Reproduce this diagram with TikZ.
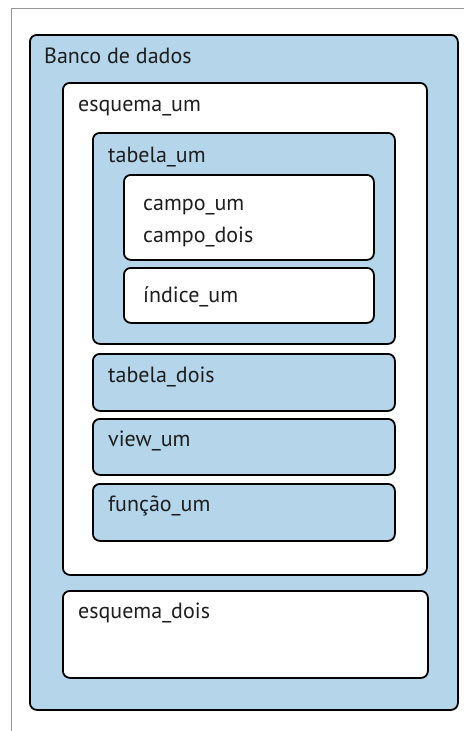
\documentclass[tikz,border=0pt]{standalone}
\usepackage{fontspec}
\setmainfont{PT Sans}
\usepackage{tikz}
\usetikzlibrary{positioning}
\definecolor{boxblue}{RGB}{180,213,234}
\definecolor{framegray}{RGB}{150,150,150}
\definecolor{inkdark}{RGB}{30,30,30}

\begin{document}
\begin{tikzpicture}[x=1pt, y=-1pt,
  box/.style={draw=black, line width=1.8pt, rounded corners=7pt, anchor=north west, inner sep=0pt},
  bluebox/.style={box, fill=boxblue},
  whitebox/.style={box, fill=white},
  lbl/.style={anchor=base west, inner sep=0pt, text=inkdark, font=\fontsize{22}{26}\selectfont}
]
\useasboundingbox (0,0) rectangle (464,731);
\draw[framegray, line width=1pt] (464,8) -- (11,8) -- (11,731);
% banco de dados
\node[bluebox, minimum width=428pt, minimum height=675pt] (banco) at (29,34) {};
\node[lbl] (bancotxt) at (44,63) {Banco de dados};
% esquema_um
\node[whitebox, minimum width=364pt, minimum height=492pt] (esq1) at (62,82) {};
\node[lbl] (esq1txt) at (78,111) {esquema\_um};
% tabela_um
\node[bluebox, minimum width=302pt, minimum height=211pt] (tab1) at (92,132) {};
\node[lbl] (tab1txt) at (108,162) {tabela\_um};
\node[whitebox, minimum width=250pt, minimum height=85pt] (campos) at (123,174) {};
\node[lbl] (campo1) at (143,210) {campo\_um};
\node[lbl] (campo2) at (143,242) {campo\_dois};
\node[whitebox, minimum width=250pt, minimum height=55pt] (indice) at (123,267) {};
\node[lbl] (indicetxt) at (143,302) {índice\_um};
% outros objetos
\node[bluebox, minimum width=302pt, minimum height=57pt] (tab2) at (92,353) {};
\node[lbl] (tab2txt) at (108,382) {tabela\_dois};
\node[bluebox, minimum width=302pt, minimum height=56pt] (view) at (92,418) {};
\node[lbl] (viewtxt) at (108,446) {view\_um};
\node[bluebox, minimum width=302pt, minimum height=57pt] (func) at (92,483) {};
\node[lbl] (functxt) at (108,511) {função\_um};
% esquema_dois
\node[whitebox, minimum width=365pt, minimum height=87pt] (esq2) at (62,590) {};
\node[lbl] (esq2txt) at (78,618) {esquema\_dois};
\end{tikzpicture}
\end{document}
